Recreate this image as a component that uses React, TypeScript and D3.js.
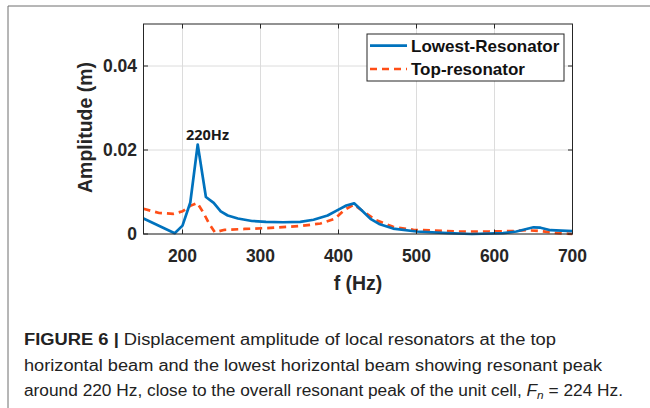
import React from "react";
import * as d3 from "d3";

const lowestFreq = [150, 190, 200, 210, 219.5, 230, 240, 249, 258, 271, 289, 307, 329, 351, 368, 386, 400, 410, 420, 430, 441, 452, 470, 500, 540, 571, 611, 628, 650, 659, 672, 700];
const lowestAmp = [0.0037, 0.0002, 0.002, 0.0075, 0.0213, 0.0088, 0.0074, 0.0054, 0.0044, 0.0037, 0.0031, 0.0029, 0.0028, 0.0029, 0.0034, 0.0044, 0.0058, 0.0068, 0.0073, 0.0056, 0.0036, 0.0024, 0.0013, 0.0006, 0.0002, 0.0, 0.0002, 0.0006, 0.0016, 0.0015, 0.0009, 0.0007];
const topFreq = [150, 170, 188, 200, 210, 219, 227, 234, 241.5, 254, 280, 307, 351, 377, 395, 408, 420, 430, 448, 470, 496, 549, 593, 624, 641, 659, 681, 700];
const topAmp = [0.006, 0.005, 0.0048, 0.0054, 0.0067, 0.0074, 0.005, 0.0025, 0.0004, 0.001, 0.0012, 0.0014, 0.0019, 0.0025, 0.0036, 0.0058, 0.007, 0.0056, 0.0033, 0.0017, 0.001, 0.0006, 0.0006, 0.0007, 0.0009, 0.0007, 0.0002, 0.0];
const xTicks = [200, 300, 400, 500, 600, 700];
const yTicks = [0, 0.02, 0.04];
const yTickLabels = ["0", "0.02", "0.04"];
const seriesNames = ["Lowest-Resonator", "Top-resonator"];
const captionBold = "FIGURE 6 | ";
const captionLines = [
  "Displacement amplitude of local resonators at the top",
  "horizontal beam and the lowest horizontal beam showing resonant peak",
  "around 220 Hz, close to the overall resonant peak of the unit cell, ",
];

const L = 143.5, R = 572.5, T = 24, B = 234;
const BLUE = "#0072BD";
const RED = "#FF4E17";
const AX = "#262626";
const FONT = "'Liberation Sans', Arial, sans-serif";

export default function App() {
  const x = d3.scaleLinear().domain([150, 700]).range([L, R]);
  const y = d3.scaleLinear().domain([0, 0.05]).range([B, T]);
  const line = d3.line<[number, number]>().x(d => x(d[0])).y(d => y(d[1]));
  const blue = line(lowestFreq.map((f, i) => [f, lowestAmp[i]] as [number, number]));
  const red = line(topFreq.map((f, i) => [f, topAmp[i]] as [number, number]));
  const tk = 4.5;
  return (
    <svg width={650} height={408} style={{ position: "absolute", left: 0, top: 0, background: "#fff" }}>
      <rect x={0} y={0} width={650} height={408} fill="#fff" />
      <line x1={8} y1={6} x2={650} y2={6} stroke="#6e6e6e" strokeWidth={1} />
      <line x1={8} y1={6} x2={8} y2={408} stroke="#6e6e6e" strokeWidth={1} />
      {xTicks.map(t => (
        <line key={"gx" + t} x1={x(t)} x2={x(t)} y1={T} y2={B} stroke="#dcdcdc" strokeWidth={1} />
      ))}
      {yTicks.map(t => (
        <line key={"gy" + t} x1={L} x2={R} y1={y(t)} y2={y(t)} stroke="#dcdcdc" strokeWidth={1} />
      ))}
      <defs>
        <clipPath id="pc"><rect x={L} y={T - 2} width={R - L} height={B - T + 4} /></clipPath>
      </defs>
      <g clipPath="url(#pc)">
        <path d={red || ""} fill="none" stroke={RED} strokeWidth={2.7} strokeDasharray="7,5" />
        <path d={blue || ""} fill="none" stroke={BLUE} strokeWidth={2.7} strokeLinejoin="round" />
      </g>
      <rect x={L} y={T} width={R - L} height={B - T} fill="none" stroke={AX} strokeWidth={1} />
      {xTicks.map(t => (
        <g key={"tx" + t}>
          <line x1={x(t)} x2={x(t)} y1={B} y2={B - tk} stroke={AX} />
          <line x1={x(t)} x2={x(t)} y1={T} y2={T + tk} stroke={AX} />
          <text x={x(t)} y={262} textAnchor="middle" fontFamily={FONT} fontWeight="bold" fontSize={17.5} fill="#262626">{t}</text>
        </g>
      ))}
      {yTicks.map((t, i) => (
        <g key={"ty" + t}>
          <line x1={L} x2={L + tk} y1={y(t)} y2={y(t)} stroke={AX} />
          <line x1={R} x2={R - tk} y1={y(t)} y2={y(t)} stroke={AX} />
          <text x={137} y={y(t)} dy="0.36em" textAnchor="end" fontFamily={FONT} fontWeight="bold" fontSize={17.5} fill="#262626">{yTickLabels[i]}</text>
        </g>
      ))}
      <text x={358} y={290} textAnchor="middle" fontFamily={FONT} fontWeight="bold" fontSize={19.5} fill="#262626">f (Hz)</text>
      <text transform="translate(85,127.5) rotate(-90)" textAnchor="middle" dy="0.36em" fontFamily={FONT} fontWeight="bold" fontSize={19.5} fill="#262626">Amplitude (m)</text>
      <text x={207.5} y={140} textAnchor="middle" fontFamily="'Open Sans', sans-serif" fontWeight="bold" fontSize={14.5} fill="#1a1a1a">220Hz</text>
      <rect x={367} y={34} width={197} height={47} fill="#fff" stroke={AX} strokeWidth={1} />
      <line x1={370} x2={407} y1={45.7} y2={45.7} stroke={BLUE} strokeWidth={2.7} />
      <line x1={370} x2={407} y1={69} y2={69} stroke={RED} strokeWidth={2.7} strokeDasharray="7,5" />
      <text x={411} y={45.7} dy="0.36em" fontFamily={FONT} fontWeight="bold" fontSize={17} fill="#111">{seriesNames[0]}</text>
      <text x={411} y={69} dy="0.36em" fontFamily={FONT} fontWeight="bold" fontSize={17} fill="#111">{seriesNames[1]}</text>
      <text x={24} y={345} fontFamily={FONT} fontSize={16} fill="#222" textLength={556 - 24} lengthAdjust="spacingAndGlyphs">
        <tspan fontWeight="bold">{captionBold}</tspan>
        <tspan>{captionLines[0]}</tspan>
      </text>
      <text x={24} y={371} fontFamily={FONT} fontSize={16} fill="#222" textLength={602 - 24} lengthAdjust="spacingAndGlyphs">{captionLines[1]}</text>
      <text x={24} y={396} fontFamily={FONT} fontSize={16} fill="#222" textLength={623 - 24} lengthAdjust="spacingAndGlyphs">
        <tspan>{captionLines[2]}</tspan>
        <tspan fontStyle="italic">F</tspan>
        <tspan fontStyle="italic" fontSize={11} dy={3}>n</tspan>
        <tspan dy={-3}>{" = 224 Hz."}</tspan>
      </text>
    </svg>
  );
}
